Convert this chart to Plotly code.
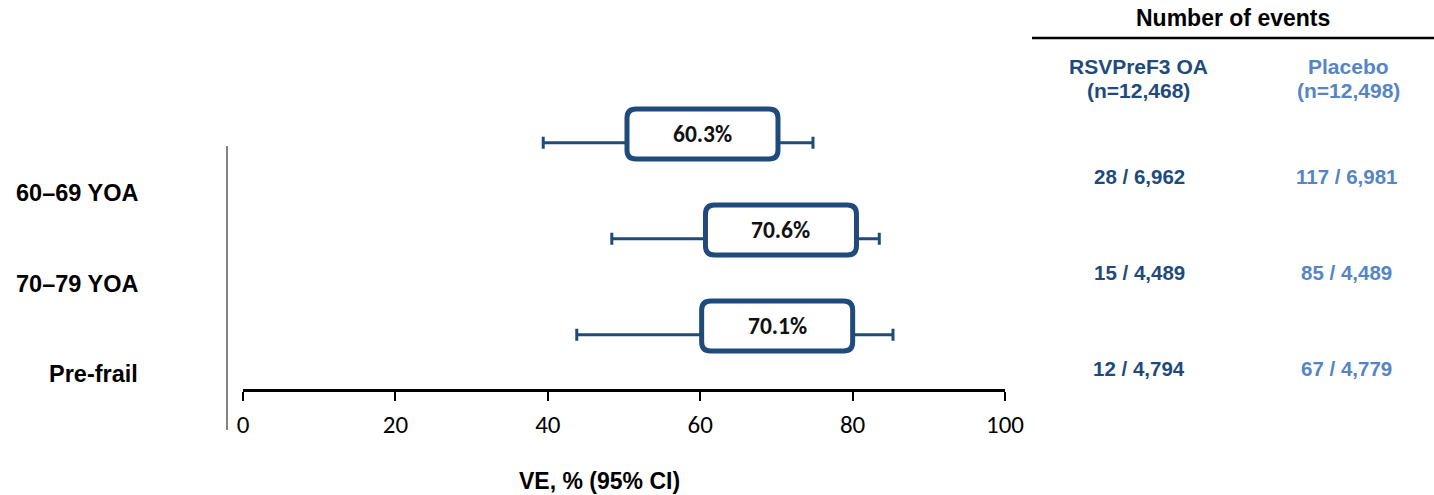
import plotly.graph_objects as go

# ---- data -------------------------------------------------------------
groups = ["60–69 YOA", "70–79 YOA", "Pre-frail"]
ve = [60.3, 70.6, 70.1]
ci_low = [39.4, 48.4, 43.8]
ci_high = [74.8, 83.5, 85.3]
vaccine_events = ["28 / 6,962", "15 / 4,489", "12 / 4,794"]
placebo_events = ["117 / 6,981", "85 / 4,489", "67 / 4,779"]
vaccine_header = ["RSVPreF3 OA", "(n=12,468)"]
placebo_header = ["Placebo", "(n=12,498)"]
table_title = "Number of events"
x_title = "VE, % (95% CI)"
x_ticks = [0, 20, 40, 60, 80, 100]

# ---- styling ----------------------------------------------------------
W, H = 1434, 495
DARK = "#1F4A7C"
LIGHT = "#5585C2"
BOLD = "Liberation Sans, Arial, sans-serif"
CAL = "Carlito, Lato, Liberation Sans, sans-serif"

ROW_PX = 96.0         # vertical spacing between forest rows
FIRST_ROW_PX = 134.0  # centre of the first box from the top
AXIS_PX = 389.0       # position of the VE axis line from the top
X0_PX, X1_PX = 243.0, 1005.0
UNIT_X = (X1_PX - X0_PX) / 100.0


def fx(p):
    return p / W


def fy(p):
    return 1 - p / H


def rounded_box(cx, cy, hw, hh, rx, ry):
    x0, x1, y0, y1 = cx - hw, cx + hw, cy - hh, cy + hh
    return (
        f"M {x0 + rx},{y0} L {x1 - rx},{y0} Q {x1},{y0} {x1},{y0 + ry} "
        f"L {x1},{y1 - ry} Q {x1},{y1} {x1 - rx},{y1} "
        f"L {x0 + rx},{y1} Q {x0},{y1} {x0},{y1 - ry} "
        f"L {x0},{y0 + ry} Q {x0},{y0} {x0 + rx},{y0} Z"
    )


def text(x, y, s, size, color, xref="paper", yref="paper", family=BOLD, xanchor="center"):
    return dict(
        x=x, y=y, xref=xref, yref=yref, text=s, showarrow=False,
        xanchor=xanchor, yanchor="middle",
        font=dict(family=family, size=size, color=color),
    )


rows = list(range(len(groups)))
fig = go.Figure()

# confidence intervals
fig.add_trace(go.Scatter(
    x=ve,
    y=[r + 0.09 for r in rows],
    mode="markers",
    marker=dict(size=1, color="rgba(0,0,0,0)"),
    error_x=dict(
        type="data", symmetric=False,
        array=[h - v for h, v in zip(ci_high, ve)],
        arrayminus=[v - l for v, l in zip(ve, ci_low)],
        color=DARK, thickness=3, width=6,
    ),
    hoverinfo="skip",
    showlegend=False,
))

shapes = []
annotations = []

# point-estimate boxes with VE labels
hw = 75.5 / UNIT_X
hh = 25.0 / ROW_PX
rx = 9.0 / UNIT_X
ry = 9.0 / ROW_PX
for r, v in zip(rows, ve):
    shapes.append(dict(
        type="path", xref="x", yref="y",
        path=rounded_box(v, r, hw, hh, rx, ry),
        line=dict(color=DARK, width=5), fillcolor="white", layer="above",
    ))
    annotations.append(text(v, r, f"<b>{v:.1f}%</b>", 23.5, "#111111",
                            xref="x", yref="y", family=CAL))

# left divider line
shapes.append(dict(
    type="line", xref="paper", yref="paper",
    x0=fx(227), x1=fx(227), y0=fy(146), y1=fy(430),
    line=dict(color="#5a5a5a", width=1.5),
))

# rule under the table title
shapes.append(dict(
    type="line", xref="paper", yref="paper",
    x0=fx(1032), x1=1, y0=fy(38), y1=fy(38),
    line=dict(color="black", width=2.5),
))

# group labels
for r, g in zip(rows, groups):
    annotations.append(text(fx(140), fy(193 + 90.5 * r), f"<b>{g}</b>", 23.5,
                            "black", xanchor="right"))

# events table
annotations.append(text(fx(1233), fy(18), f"<b>{table_title}</b>", 23, "black"))
for k, (a, b) in enumerate(zip(vaccine_header, placebo_header)):
    ypx = 67 + 24 * k
    annotations.append(text(fx(1138), fy(ypx), f"<b>{a}</b>", 21, DARK))
    annotations.append(text(fx(1348), fy(ypx), f"<b>{b}</b>", 21, LIGHT))
for r, a, b in zip(rows, vaccine_events, placebo_events):
    annotations.append(text(fx(1139), r + 0.445, f"<b>{a}</b>", 20.5, DARK, yref="y"))
    annotations.append(text(fx(1346), r + 0.445, f"<b>{b}</b>", 20.5, LIGHT, yref="y"))

# x-axis title
annotations.append(text(fx(599), fy(481), f"<b>{x_title}</b>", 23, "black"))

fig.update_layout(
    width=W, height=H,
    margin=dict(l=0, r=0, t=0, b=0, autoexpand=False),
    paper_bgcolor="white", plot_bgcolor="white",
    shapes=shapes, annotations=annotations,
    showlegend=False,
    xaxis=dict(
        domain=[fx(X0_PX), fx(X1_PX)],
        range=[0, 100],
        tickvals=x_ticks, ticktext=[str(t) for t in x_ticks],
        ticks="outside", ticklen=9, tickwidth=2, tickcolor="black",
        showline=True, linecolor="black", linewidth=3,
        showgrid=False, zeroline=False, automargin=False,
        ticklabelstandoff=2,
        tickfont=dict(family=CAL, size=25, color="black"),
    ),
    yaxis=dict(
        domain=[fy(AXIS_PX), 1],
        range=[(AXIS_PX - FIRST_ROW_PX) / ROW_PX, -FIRST_ROW_PX / ROW_PX],
        visible=False, automargin=False,
    ),
)

fig.write_html("out.html")
